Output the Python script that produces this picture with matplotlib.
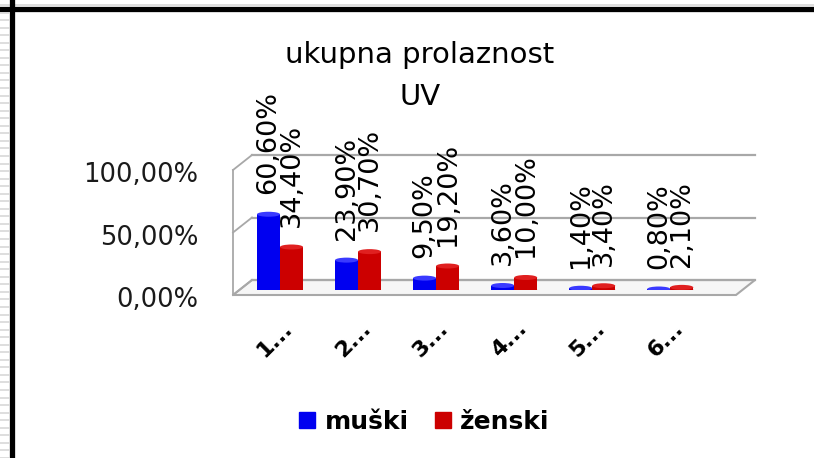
import numpy as np
import matplotlib
matplotlib.use('Agg')
import matplotlib.pyplot as plt
from matplotlib.patches import Ellipse, Polygon
from matplotlib.lines import Line2D
from matplotlib import transforms

# data
categories = ['1...', '2...', '3...', '4...', '5...', '6...']
musko = [60.6, 23.9, 9.5, 3.6, 1.4, 0.8]
zensko = [34.4, 30.7, 19.2, 10.0, 3.4, 2.1]
yticks = [0, 50, 100]
ytick_labels = ['0,00%', '50,00%', '100,00%']
series_names = ['muški', 'ženski']

BLUE = '#0000f0'
RED = '#cc0000'
GRID = '#a8a8a8'

W, H = 814, 458
fig = plt.figure(figsize=(W / 100, H / 100), dpi=100)
fig.patch.set_facecolor('white')

# axes = plane in which the bars stand
ax = fig.add_axes([243 / W, 1 - 290 / H, 503 / W, 125 / H])
ax.set_xlim(-0.474, 5.97)
ax.set_ylim(0, 100)
for s in ax.spines.values():
    s.set_visible(False)
ax.patch.set_alpha(0)

FRONT = (-10, -5)
BACK = (9, 10)
ident = transforms.IdentityTransform()


def pt(xd, yd, off):
    p = ax.transData.transform((xd, yd))
    return (p[0] + off[0], p[1] + off[1])


x0, x1 = ax.get_xlim()

# floor
floor = Polygon([pt(x0, 0, FRONT), pt(x0, 0, BACK), pt(x1, 0, BACK), pt(x1, 0, FRONT)],
                closed=True, facecolor='#f6f6f6', edgecolor=GRID, lw=1.5,
                transform=ident, zorder=-2)
fig.add_artist(floor)

# back wall gridlines + left wall
for yv in yticks:
    a, b = pt(x0, yv, BACK), pt(x1, yv, BACK)
    fig.add_artist(Line2D([a[0], b[0]], [a[1], b[1]], color=GRID, lw=1.6,
                          transform=ident, zorder=-1))
    c = pt(x0, yv, FRONT)
    fig.add_artist(Line2D([c[0], a[0]], [c[1], a[1]], color=GRID, lw=1.3,
                          transform=ident, zorder=-1))
a, b = pt(x0, 0, FRONT), pt(x0, 100, FRONT)
fig.add_artist(Line2D([a[0], b[0]], [a[1], b[1]], color=GRID, lw=1.3,
                      transform=ident, zorder=-1))

# bars
x = np.arange(len(categories))
w = 0.295
cap_h = 4.0


def fmt(v):
    return ('%.2f' % v).replace('.', ',') + '%'


for vals, col, light, sh in [(musko, BLUE, '#3a3aff', -w / 2), (zensko, RED, '#e02020', w / 2)]:
    ax.bar(x + sh, vals, w, color=col, zorder=3, linewidth=0)
    for xi, v in zip(x + sh, vals):
        ax.add_patch(Ellipse((xi, 0), w, cap_h, color=col, zorder=2.9, lw=0))
        ax.add_patch(Ellipse((xi, v), w, cap_h, color=light, zorder=3.1, lw=0))
        ax.annotate(fmt(v), xy=(xi, v), xytext=(0, 14.5), textcoords='offset points',
                    rotation=90, ha='center', va='bottom', fontsize=19.5,
                    color='black', annotation_clip=False, zorder=5)

# ticks
ax.set_xticks(x, categories, fontsize=16, fontweight='bold', rotation=45, ha='center')
ax.set_yticks(yticks, ytick_labels, fontsize=18.5, color='#1a1a1a')
ax.tick_params(axis='x', length=0, pad=20)
ax.tick_params(axis='y', length=0, pad=32)
for lbl in ax.get_xticklabels():
    lbl.set_transform(lbl.get_transform() + transforms.ScaledTranslation(-5 / 100, 0, fig.dpi_scale_trans))
for lbl in ax.get_yticklabels():
    lbl.set_transform(lbl.get_transform() + transforms.ScaledTranslation(0, -7 / 100, fig.dpi_scale_trans))

# title
fig.text(420 / W, 1 - 63 / H, 'ukupna prolaznost', ha='center', va='baseline', fontsize=21)
fig.text(420 / W, 1 - 105 / H, 'UV', ha='center', va='baseline', fontsize=21)

# legend
handles = [Line2D([], [], marker='s', ls='none', color=BLUE, markersize=11),
           Line2D([], [], marker='s', ls='none', color=RED, markersize=11)]
fig.legend(handles, series_names, loc='center', bbox_to_anchor=(424 / W, 1 - 422 / H),
           ncol=2, frameon=False, prop={'weight': 'bold', 'size': 18},
           handlelength=0.7, handletextpad=0.35, columnspacing=1.0)

# frame of the sheet
fig.add_artist(Line2D([0, 1], [1 - 4.5 / H, 1 - 4.5 / H], color='#d8d8d8', lw=1.2,
                      transform=fig.transFigure))
fig.add_artist(Line2D([0, 1], [1 - 8.5 / H, 1 - 8.5 / H], color='black', lw=3.8,
                      transform=fig.transFigure))
fig.add_artist(Line2D([12 / W, 12 / W], [0, 1], color='black', lw=3.8,
                      transform=fig.transFigure))
yy = 12.5
while yy < H:
    fig.add_artist(Line2D([0, 8.5 / W], [1 - yy / H, 1 - yy / H], color='#d4d4d4', lw=1.1,
                          transform=fig.transFigure))
    yy += 7.55

fig.savefig('out.png', dpi=100)
